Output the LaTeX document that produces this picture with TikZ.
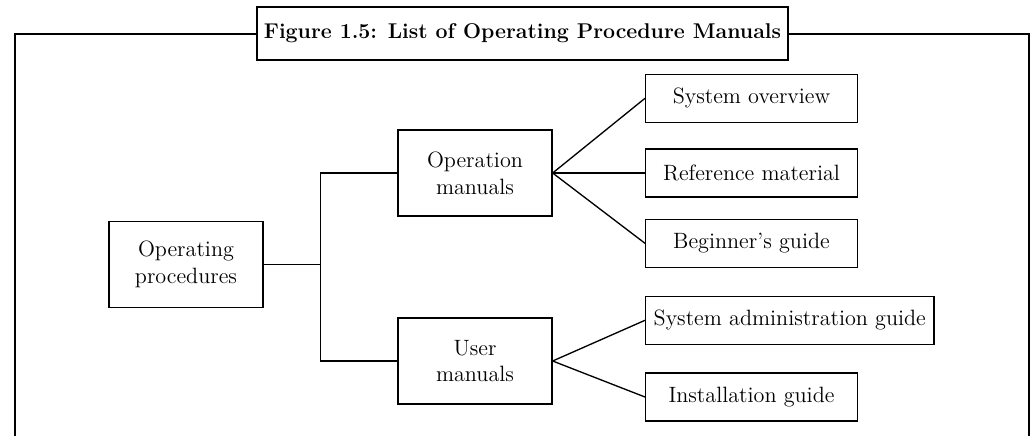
\documentclass[tikz,border=0pt]{standalone}
\usetikzlibrary{positioning}
\begin{document}
\begin{tikzpicture}[
  x=0.6pt,y=-0.6pt,
  box/.style={draw,line width=0.8pt,align=center,inner sep=2pt,font=\fontsize{13.3}{16}\selectfont},
  mainbox/.style={box,minimum width=92.4pt,minimum height=51.6pt},
  leafbox/.style={box,minimum width=127pt,minimum height=28.8pt},
  link/.style={line width=0.8pt}
]
\useasboundingbox (0,0) rectangle (1031,436);

% title and frame
\node[draw,line width=1.1pt,minimum width=318.6pt,minimum height=31.8pt,
  font=\fontsize{12.8}{15}\bfseries] (title) at (522.5,33.5)
  {Figure 1.5: List of Operating Procedure Manuals};
\draw[line width=1.2pt] (15,436) |- (title.west);
\draw[line width=1.2pt] (title.east) -| (1029,436);

% tree
\node[mainbox] (root) at (186,264.5) {Operating\\procedures};
\node[mainbox] (opman) at (475,173) {Operation\\manuals};
\node[mainbox] (userman) at (475,361) {User\\manuals};

\node[leafbox] (sysov) at (751.5,98.3) {System overview};
\node[leafbox] (refmat) at (751.5,173) {Reference material};
\node[leafbox] (begin) at (751.5,243.3) {Beginner's guide};
\node[leafbox,minimum width=173pt] (sysadm) at (789.8,320.3) {System administration guide};
\node[leafbox] (install) at (751.5,397) {Installation guide};

\coordinate (bus) at (320.7,264.5);

\draw[link] (root.east) -- (bus);
\draw[link] (opman.west) -| (bus) |- (userman.west);

\path[link] (opman.east) edge (sysov.west)
  edge (refmat.west)
  edge (begin.west)
(userman.east) edge (sysadm.west)
  edge (install.west)
;

\end{tikzpicture}
\end{document}
